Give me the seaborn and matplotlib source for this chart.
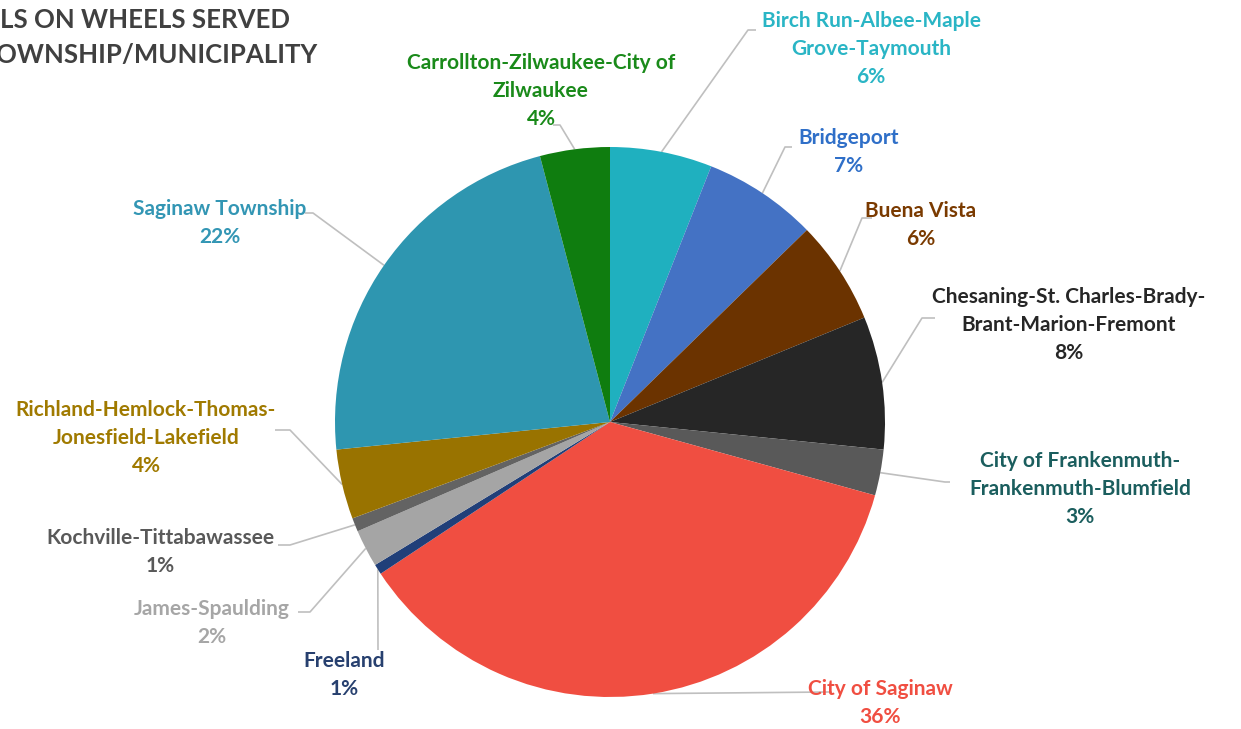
import numpy as np
import matplotlib
matplotlib.use('Agg')
import matplotlib.pyplot as plt
import seaborn as sns

sns.set_theme(style='white')
plt.rcParams['font.family'] = ['Lato', 'DejaVu Sans']

# data (share of meals served)
areas = ['Birch Run-Albee-Maple\nGrove-Taymouth', 'Bridgeport', 'Buena Vista',
         'Chesaning-St. Charles-Brady-\nBrant-Marion-Fremont',
         'City of Frankenmuth-\nFrankenmuth-Blumfield', 'City of Saginaw', 'Freeland',
         'James-Spaulding', 'Kochville-Tittabawassee',
         'Richland-Hemlock-Thomas-\nJonesfield-Lakefield', 'Saginaw Township',
         'Carrollton-Zilwaukee-City of\nZilwaukee']
shares = [6.0, 6.7, 6.1, 7.8, 2.7, 36.4, 0.6, 2.2, 0.8, 4.1, 22.5, 4.1]
slice_colors = ['#1FB0BF', '#4472C4', '#6B3300', '#262626', '#595959', '#F04E41',
                '#203F79', '#A5A5A5', '#636363', '#997300', '#2E96B0', '#0F7D0F']
text_colors = ['#2AB5C5', '#2F6FC8', '#7A3A00', '#262626', '#1B5E5E', '#F04E41',
               '#27406F', '#A6A6A6', '#595959', '#A07A00', '#3396B4', '#1A8A1A']

# layout in pixels (y measured from the top)
W, H = 1241, 729
cx, cy, R = 610, 422, 275
# label centre, leader elbow, leader end
label_pos = [(871, 49), (849, 152), (921, 225), (1069, 325), (1080, 489), (880, 703),
             (344, 675), (212, 623), (160, 552), (146, 438), (220, 223), (541, 91)]
elbows = [(748, 30), (785, 147), (862, 218), (922, 318), (945, 482), (828, 692),
          (378, 650), (310, 612), (290, 545), (290, 430), (313, 213), (560, 125)]
ends = [(756, 30), (792, 147), (872, 218), (935, 318), (950, 482), (832, 692),
        (378, 650), (298, 612), (278, 545), (275, 430), (305, 213), (553, 125)]


def fy(y):
    return H - y


fig = plt.figure(figsize=(W / 100, H / 100), dpi=100)
ax = fig.add_axes([0, 0, 1, 1])

wedges, _ = ax.pie(shares, colors=slice_colors, startangle=90, counterclock=False,
                   center=(cx, fy(cy)), radius=R, wedgeprops=dict(linewidth=0))
ax.set_xlim(0, W)
ax.set_ylim(0, H)
ax.set_aspect('equal')
ax.axis('off')

total = sum(shares)
for w, name, share, tc, lp, el, en in zip(wedges, areas, shares, text_colors,
                                          label_pos, elbows, ends):
    mid = np.deg2rad((w.theta1 + w.theta2) / 2)
    sx = cx + R * np.cos(mid)
    sy = fy(cy) + R * np.sin(mid)
    ax.plot([sx, el[0], en[0]], [sy, fy(el[1]), fy(en[1])], color='#BFBFBF', lw=1.2,
            solid_capstyle='butt', zorder=0)
    pct = '{:.0f}%'.format(round(share / total * 100))
    ax.text(lp[0], fy(lp[1]), name + '\n' + pct, ha='center', va='center',
            multialignment='center', color=tc, fontsize=15, fontweight='bold',
            linespacing=1.5)

fig.text(0.0, fy(20) / H, 'LS ON WHEELS SERVED', ha='left', va='center',
         fontsize=18.5, fontweight='bold', color='#404040')
fig.text(-0.003, fy(55) / H, 'OWNSHIP/MUNICIPALITY', ha='left', va='center',
         fontsize=18.5, fontweight='bold', color='#404040')

fig.savefig('out.png', dpi=100, facecolor='white')
